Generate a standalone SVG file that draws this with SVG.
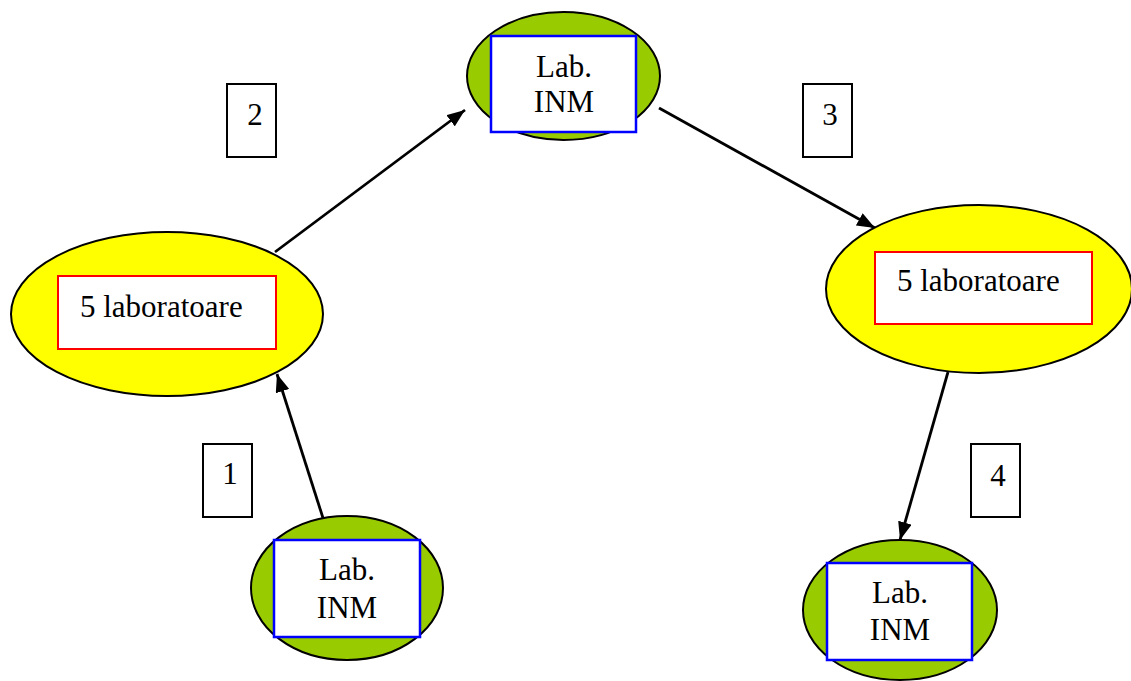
<svg xmlns="http://www.w3.org/2000/svg" width="1131" height="681" viewBox="0 0 1131 681">
<defs>
<style>
.g{fill:#99CC00;stroke:#000;stroke-width:2}
.y{fill:#FFFF00;stroke:#000;stroke-width:2}
.bb{fill:#fff;stroke:#0000FF;stroke-width:2.5}
.rb{fill:#fff;stroke:#FF0000;stroke-width:2}
.lb{fill:#fff;stroke:#000;stroke-width:2}
.t{font-family:Liberation Serif,serif;font-size:31px;fill:#000}
.c{text-anchor:middle}
.e{stroke:#000;stroke-width:2.8;fill:none;marker-end:url(#ah)}
</style>
<marker id="ah" markerUnits="userSpaceOnUse" viewBox="0 0 18 14" refX="18" refY="7" markerWidth="18" markerHeight="14" orient="auto">
<path d="M0,0 L18,7 L0,14 z" fill="#000"/>
</marker>
</defs>
<rect width="1131" height="681" fill="#fff"/>
<g id="connectors">
<line class="e" x1="323" y1="518" x2="277" y2="374"/>
<line class="e" x1="275" y1="252" x2="465" y2="110"/>
<line class="e" x1="659" y1="108" x2="875" y2="228"/>
<line class="e" x1="948" y1="372" x2="900" y2="540"/>
</g>
<g id="node-top" font-family="serif">
<ellipse class="g" cx="563.5" cy="76" rx="96.5" ry="64"/>
<rect class="bb" x="491" y="36" width="145" height="96"/>
<text class="t c" x="564" y="77">Lab.</text>
<text class="t c" x="564" y="112">INM</text>
</g>
<g id="node-left" font-family="serif">
<ellipse class="y" cx="167" cy="314" rx="156" ry="82"/>
<rect class="rb" x="58" y="276" width="218" height="73"/>
<text class="t" x="80" y="317">5 laboratoare</text>
</g>
<g id="node-right" font-family="serif">
<ellipse class="y" cx="979" cy="289" rx="153" ry="84"/>
<rect class="rb" x="875" y="252" width="217" height="72"/>
<text class="t" x="897" y="291">5 laboratoare</text>
</g>
<g id="node-bottom-left" font-family="serif">
<ellipse class="g" cx="347" cy="588" rx="96" ry="72"/>
<rect class="bb" x="274" y="540" width="146" height="97"/>
<text class="t c" x="347" y="580">Lab.</text>
<text class="t c" x="347" y="618">INM</text>
</g>
<g id="node-bottom-right" font-family="serif">
<ellipse class="g" cx="900" cy="610" rx="97" ry="70"/>
<rect class="bb" x="827" y="563" width="145" height="97"/>
<text class="t c" x="900" y="603">Lab.</text>
<text class="t c" x="900" y="640">INM</text>
</g>
<g id="label-1" font-family="serif">
<rect class="lb" x="203" y="444" width="49" height="73"/>
<text class="t c" x="230" y="484">1</text>
</g>
<g id="label-2" font-family="serif">
<rect class="lb" x="227" y="84" width="49" height="73"/>
<text class="t c" x="255" y="125">2</text>
</g>
<g id="label-3" font-family="serif">
<rect class="lb" x="803" y="84" width="49" height="73"/>
<text class="t c" x="830" y="125">3</text>
</g>
<g id="label-4" font-family="serif">
<rect class="lb" x="971" y="444" width="49" height="73"/>
<text class="t c" x="998" y="486">4</text>
</g>
</svg>
